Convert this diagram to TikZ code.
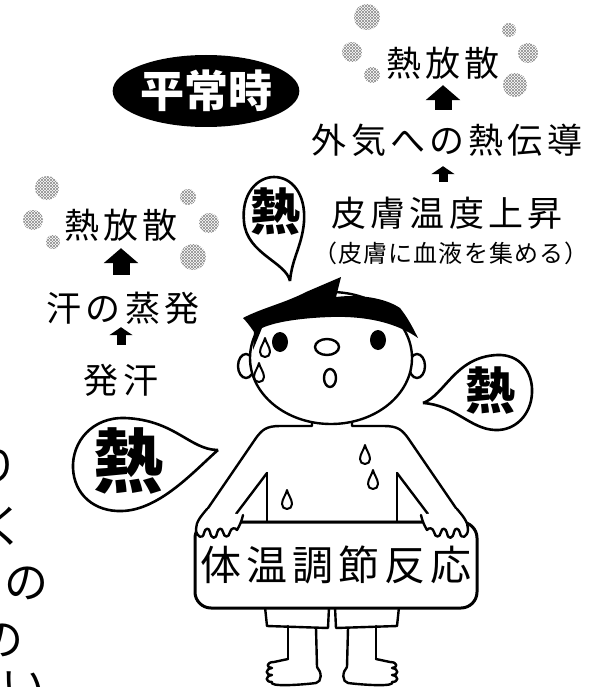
\documentclass[tikz,border=0pt]{standalone}
\usepackage{fontspec}
\setmainfont{Noto Sans CJK JP}
\newfontfamily\jp[LetterSpace=12]{Noto Sans CJK JP}
\newfontfamily\jpsmall[LetterSpace=5]{Noto Sans CJK JP}
\newfontfamily\jpplain{Noto Sans CJK JP}
\usetikzlibrary{shapes.geometric, patterns, arrows.meta}

\newcommand\sweatdrop[1]{\draw[body, line width=2pt] (#1) ++(0,-14) .. controls +(1,5) and +(0,-5) .. ++(5,14) .. controls +(0,3) and +(3,0) .. ++(-5,5) .. controls +(-3,0) and +(0,3) .. ++(-5,-5) .. controls +(0,-5) and +(-1,5) .. ++(5,-14) -- cycle;}

\begin{document}
\begin{tikzpicture}[x=1pt, y=-1pt,
  lbl/.style={inner sep=0pt, text height=29pt, text depth=2pt, font=\jp\fontsize{35}{35}\selectfont},
  subnote/.style={inner sep=0pt, text height=20pt, text depth=2pt, font=\jpsmall\fontsize{24}{24}\selectfont},
  bigup/.style={line width=17pt, -{Triangle[width=34pt, length=15pt]}},
  smallup/.style={line width=9pt, -{Triangle[width=23pt, length=8pt]}},
  dotball/.style={pattern=north east lines, pattern color=gray!90, preaction={pattern=north west lines, pattern color=gray!90}},
  outline/.style={line width=2.4pt, line join=round, line cap=round},
  body/.style={outline, fill=white},
  bubble/.style={line width=2.6pt, fill=white},
  hot/.style={inner sep=0pt, font=\jpplain\bfseries\fontsize{#1}{#1}\selectfont},
  placard/.style={draw, line width=3pt, rounded corners=16pt, fill=white, minimum width=282pt, minimum height=86pt, inner sep=0pt, text height=34pt, text depth=3pt, font=\jp\fontsize{41}{41}\selectfont},
  cuttext/.style={anchor=base east, inner sep=0pt, font=\jpplain\fontsize{44}{44}\selectfont}
]
\useasboundingbox (0,0) rectangle (600,687);
\clip (0,0) rectangle (600,687);

\foreach \x/\y/\r in {367/17/13, 352/52/10, 372/75/8, 509/30/7, 528/53/10, 515/85/12,
                      47/188/12, 33/220/10, 53/242/7, 188/197/8, 209/223/10, 193/257/13}
  \path[dotball] (\x,\y) circle[radius=\r];

\node[lbl] (radR) at (443,63) {熱放散};
\node[lbl] (conduct) at (447,140) {外気への熱伝導};
\node[lbl] (skinT) at (447,213) {皮膚温度上昇};
\node[subnote] (blood) at (451,253) {（皮膚に血液を集める）};
\node[lbl] (radL) at (121,225) {熱放散};
\node[lbl] (evap) at (123,308) {汗の蒸発};
\node[lbl] (sweatup) at (121,380) {発汗};

\draw[bigup, shorten <=14.5pt, shorten >=6.5pt] (conduct.north -| radR.south) -- (radR.south);
\draw[smallup, shorten <=15.5pt, shorten >=10.5pt] (skinT.north -| radR.south) -- (conduct.south -| radR.south);
\draw[bigup, shorten <=17.5pt, shorten >=7.5pt] (evap.north -| radL.south) -- (radL.south);
\draw[smallup, shorten <=19.5pt, shorten >=3.5pt] (sweatup.north -| radL.south) -- (evap.south -| radL.south);

\node[ellipse, fill=black, text=white, minimum width=168pt, minimum height=72pt, inner sep=0pt,
      text height=37pt, text depth=3pt, font=\jpplain\bfseries\fontsize{44}{44}\selectfont] (badge) at (206,91) {平常時};

% legs, shorts and feet
\foreach \s in {1,-1}
{
\begin{scope}[xshift={(1-\s)*332}, xscale=\s]
  \draw[body] (265,607) -- (267,626) -- (328,628) -- (329,607);
  \draw[outline] (288,626) -- (288,659);
  \draw[outline] (316,628) -- (317,667);
  \draw[outline] (288,659) -- (274,662) .. controls (266,662) and (266,668) .. (272,668)
    .. controls (265,669) and (265,675) .. (272,675) .. controls (265,676) and (265,682) .. (272,682)
    .. controls (268,687) and (300,685) .. (316,683) .. controls (322,682) and (322,672) .. (317,667);
\end{scope}
}

% torso
\draw[body] (312,418) -- (312,426) -- (280,426) .. controls (266,426) and (262,430) .. (256,438) -- (204,514)
  -- (240,522) -- (424,522) -- (460,514) -- (408,438) .. controls (402,430) and (398,426) .. (384,426)
  -- (352,426) -- (352,418);
\foreach \s in {1,-1}
{
\begin{scope}[xshift={(1-\s)*332}, xscale=\s]
  \draw[outline] (267,473) -- (267,522);
  \draw[outline] (267,473) -- (236,514);
\end{scope}
}

\node[placard] (plate) at (336,565) {体温調節反応};

% hands over the placard
\foreach \s in {1,-1}
{
\begin{scope}[xshift={(1-\s)*332}, xscale=\s]
  \draw[body] (207,509) .. controls (201,516) and (196,522) .. (196,529) .. controls (196,537) and (203,540) .. (204,533)
    .. controls (205,528) and (209,527) .. (210,532) .. controls (211,539) and (216,540) .. (217,533)
    .. controls (218,528) and (222,527) .. (223,532) .. controls (224,538) and (229,538) .. (230,532)
    .. controls (231,528) and (235,527) .. (237,530) .. controls (240,525) and (242,520) .. (243,515);
\end{scope}
}

% head
\draw[body] (246,366) ellipse[x radius=8, y radius=12];
\draw[body] (417,366) ellipse[x radius=8, y radius=12];
\draw[body] (331,358) ellipse[x radius=81, y radius=66];
\fill (243,318) .. controls (262,308) and (285,303) .. (306,292) -- (341,277) -- (336,297)
  .. controls (360,294) and (385,298) .. (400,308) .. controls (408,318) and (413,328) .. (418,338)
  .. controls (395,322) and (365,316) .. (331,317) .. controls (300,318) and (275,322) .. (262,328)
  -- (253,350) -- (254,332) .. controls (250,326) and (246,321) .. (243,318) -- cycle;
\fill (280,342) ellipse[x radius=8, y radius=10];
\fill (378,340) ellipse[x radius=8, y radius=10];
\draw[outline] (327,347) ellipse[x radius=12, y radius=8];
\draw[outline] (330,378) ellipse[x radius=6, y radius=9];

\sweatdrop{265,352}
\sweatdrop{259,377}
\sweatdrop{365,459}
\sweatdrop{373,484}
\sweatdrop{287,504}

% speech bubbles
\draw[bubble] (290,281) .. controls (286,262) and (247,254) .. (244,222) .. controls (241,193) and (258,177) .. (274,177)
  .. controls (292,177) and (306,194) .. (304,222) .. controls (302,246) and (292,258) .. (290,281);
\node[hot=50, text height=41pt, text depth=4pt] (hotTop) at (275,212) {熱};
\draw[bubble] (423,403) .. controls (445,395) and (455,357) .. (497,355) .. controls (520,354) and (533,372) .. (532,393)
  .. controls (531,415) and (515,431) .. (495,430) .. controls (470,429) and (455,405) .. (423,403);
\node[hot=50, text height=41pt, text depth=4pt] (hotRight) at (490,391) {熱};
\draw[bubble] (218,450) .. controls (190,450) and (175,420) .. (125,418) .. controls (92,417) and (72,442) .. (73,468)
  .. controls (74,495) and (95,512) .. (122,511) .. controls (160,510) and (195,470) .. (218,450);
\node[hot=70, text height=58pt, text depth=5pt] (hotLeft) at (128,461) {熱};

\node[cuttext] (cutri) at (19,482) {り};
\node[cuttext] (cutku) at (26,542) {く};
\node[cuttext] (cutno) at (49,598) {の};
\node[cuttext] (cutnob) at (24,655) {の};
\node[cuttext] (cutnai) at (46,702) {ない};
\end{tikzpicture}
\end{document}
